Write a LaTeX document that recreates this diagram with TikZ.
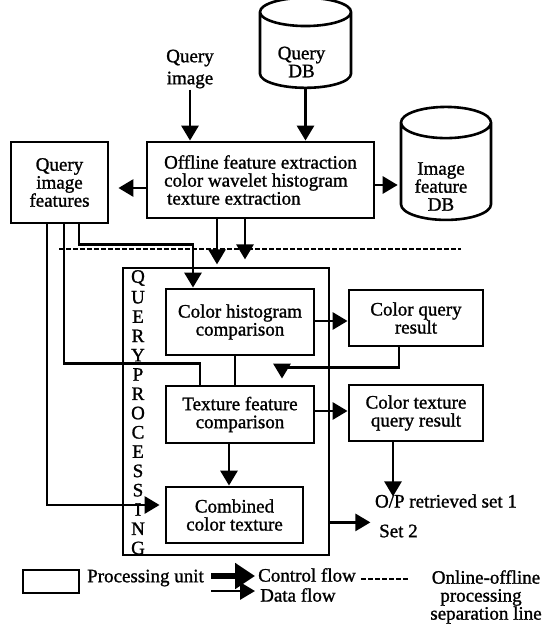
\documentclass[tikz,border=0pt]{standalone}
\usepackage{fontspec}
\setmainfont{Liberation Serif}[UprightFeatures={FakeBold=1.2}]
\usetikzlibrary{arrows.meta,shapes.geometric}
\tikzset{
  every node/.style={font=\fontsize{19}{18}\selectfont,inner sep=1pt},
  procbox/.style={draw,line width=2.8pt,align=center,inner sep=2pt},
  dbcyl/.style={cylinder,shape border rotate=90,draw,line width=2.6pt,
    aspect=0.57,align=center,inner sep=1pt},
  lbl/.style={align=center},
  dflow/.style={-{Triangle[length=15pt,width=17pt]},line width=2.8pt},
  dline/.style={line width=2.8pt},
  cflow/.style={-{Triangle[length=20pt,width=25pt]},line width=6pt},
  sepline/.style={line width=2.2pt,dash pattern=on 5pt off 2pt},
  qlet/.style={inner sep=0pt},
}
\begin{document}
\begin{tikzpicture}[x=1pt,y=-1pt]
  \useasboundingbox (0,0) rectangle (542,626);
  % offline part
  \node[dbcyl,minimum width=91pt,minimum height=90pt] (qdb) at (305.5,52)
    {\phantom{Query}\\\phantom{DB}};
  \node[lbl] (qdbtxt) at ([xshift=-4pt,yshift=-10pt]qdb.center) {Query\\DB};
  \node[lbl,font=\fontsize{19}{22}\selectfont] (qimg) at (190,69) {Query\\image};
  \node[procbox,minimum width=227pt,minimum height=76pt,align=left] (offl)
    at (260.5,180)
    {Offline feature extraction\\color wavelet histogram\\\hspace*{3pt}texture extraction};
  \node[procbox,minimum width=97pt,minimum height=81pt] (qif) at (59.5,182.5)
    {Query\\image\\features};
  \node[dbcyl,minimum width=90pt,minimum height=113pt] (idb) at (446,173.5)
    {\phantom{Image}\\\phantom{feature}\\\phantom{DB}};
  \node[lbl] (idbtxt) at ([xshift=-5pt,yshift=-13pt]idb.center) {Image\\feature\\DB};
  \draw[dflow] (qimg.south) -- (qimg.south |- offl.north);
  \draw[dflow] (qdb.south) -- (qdb.south |- offl.north);
  \draw[dflow,shorten >=9pt] ([yshift=-8pt]offl.west) -- ([yshift=-8pt]offl.west -| qif.east);
  \draw[dflow,shorten >=2pt] ([yshift=-5pt]offl.east) -- ([yshift=-5pt]offl.east -| idb.west);
  \draw[dflow] ([xshift=-43.5pt]offl.south) -- ++(0,45);
  \draw[dflow] ([xshift=-15.5pt]offl.south) -- ++(0,40);
  % online-offline separation
  \draw[sepline] (59,249) -- (461,249);
  % query processing unit
  \node[draw,line width=2.8pt,minimum width=206pt,minimum height=287pt] (qp)
    at (226,411.5) {};
  \foreach \ch [count=\i] in {Q,U,E,R,Y,P,R,O,C,E,S,S,I,N,G}
    \node[qlet] (let\i) at (138,{278+19.29*(\i-1)}) {\ch};
  \node[procbox,minimum width=148pt,minimum height=66pt] (hist) at (240,322)
    {Color histogram\\comparison};
  \node[procbox,minimum width=134pt,minimum height=56pt] (cqr) at (416,318)
    {Color query\\result};
  \node[procbox,minimum width=148pt,minimum height=57pt] (tex) at (240,414.5)
    {Texture feature\\comparison};
  \node[procbox,minimum width=134pt,minimum height=56pt] (ctq) at (416,413)
    {Color texture\\query result};
  \node[procbox,minimum width=137pt,minimum height=56pt] (comb) at (234.5,515)
    {Combined\\color texture};
  \node (op) at (446,501) {O/P retrieved set 1};
  \node[anchor=west] (set2) at (378,531) {Set 2};
  % feature lines into the unit
  \draw[dflow,shorten >=5pt] ([xshift=-12.5pt]qif.south) |- ([yshift=10pt]comb.west);
  \draw[dline] ([xshift=4.5pt]qif.south) |- ([xshift=-40pt,yshift=21pt]tex.north)
    -- ([xshift=-40pt]tex.north);
  \draw[dflow] ([xshift=19.5pt]qif.south) |- ([xshift=-47pt,yshift=43pt]hist.north)
    -- ([xshift=-47pt]hist.north);
  \draw[dflow] ([yshift=1pt]hist.east) -- ([yshift=1pt]hist.east -| cqr.west);
  \draw[dline] ([xshift=-5pt]hist.south) -- ([xshift=-5pt]hist.south |- tex.north);
  \draw[dflow] ([xshift=-17pt]cqr.south) -- ++(0,20)
    -| ([xshift=42pt,yshift=6pt]tex.north);
  \draw[dflow] ([yshift=3.5pt]tex.east) -- ([yshift=3.5pt]tex.east -| ctq.west);
  \draw[dflow] ([xshift=-11pt]tex.south) -- ([xshift=-11pt]tex.south |- comb.north);
  \draw[dflow] ([xshift=-23pt]ctq.south) -- ++(0,54);
  \draw[dflow] (qp.south east) ++(0,-34) -- ++(40,0);
  % legend
  \node[draw,line width=2.8pt,minimum width=56pt,minimum height=23pt] (leg) at (51,581.5) {};
  \node[anchor=west] (legpu) at (86,578) {Processing unit};
  \node[anchor=west] (legcf) at (257,575) {Control flow};
  \node[anchor=west] (legdf) at (259,595) {Data flow};
  \draw[cflow] ([xshift=6pt,yshift=2pt]legpu.east) -- ++(44,0);
  \draw[dflow] ([xshift=6pt,yshift=-13pt]legpu.east) -- ++(44,0);
  \draw[sepline] ([xshift=4pt,yshift=-4pt]legcf.east) -- ++(47,0);
  \node[lbl] (legsep) at (486,597) {Online-offline\\\hspace*{-10pt}processing\\separation line};
\end{tikzpicture}
\end{document}
